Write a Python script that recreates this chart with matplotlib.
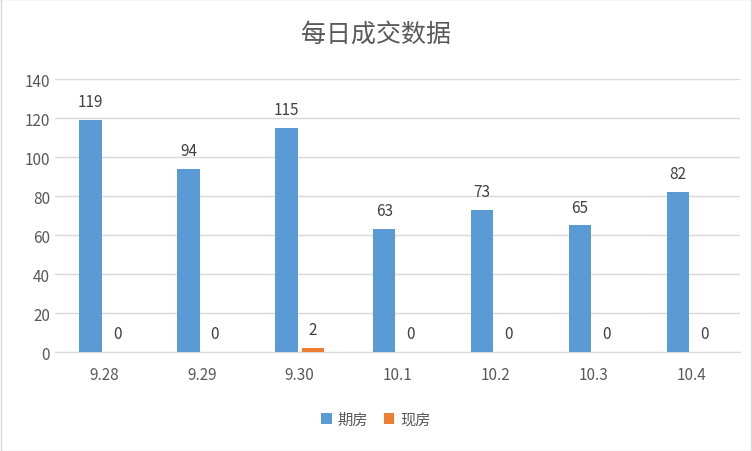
import matplotlib
matplotlib.use("Agg")
import matplotlib.pyplot as plt
import numpy as np

plt.rcParams['font.family'] = ['Noto Sans CJK SC', 'DejaVu Sans']

categories = ["9.28", "9.29", "9.30", "10.1", "10.2", "10.3", "10.4"]
futures = [119, 94, 115, 63, 73, 65, 82]
spot = [0, 0, 2, 0, 0, 0, 0]
series_names = ["期房", "现房"]

fig = plt.figure(figsize=(7.52, 4.52), dpi=100)
ax = fig.add_axes([0.073, 0.219, 0.911, 0.604])
x = np.arange(len(categories))
w = 0.23
b1 = ax.bar(x - 0.135, futures, w, color="#5B9BD5", label=series_names[0], zorder=3)
b2 = ax.bar(x + 0.135, spot, w, color="#ED7D31", label=series_names[1], zorder=3)
for xi, v in zip(x, futures):
    ax.text(xi - 0.135, v + 5, str(v), ha="center", va="bottom", fontsize=11, color="#404040")
for xi, v in zip(x, spot):
    ax.text(xi + 0.135, v + 5, str(v), ha="center", va="bottom", fontsize=11, color="#404040")

ax.set_xlim(-0.5, len(categories) - 0.5)
ax.set_ylim(0, 140)
ax.set_yticks(range(0, 141, 20))
ax.set_xticks(x)
ax.set_xticklabels(categories)
ax.tick_params(length=0, labelsize=11, colors="#595959")
ax.tick_params(axis="x", pad=10)
ax.grid(axis="y", color="#D9D9D9", linewidth=1, zorder=0)
for s in ["top", "right", "left"]:
    ax.spines[s].set_visible(False)
ax.spines["bottom"].set_color("#D9D9D9")

fig.text(0.5, 0.923, "每日成交数据", ha="center", va="center", fontsize=18, color="#595959")
fig.legend(handles=[b1, b2], loc="center", bbox_to_anchor=(0.5, 0.07), ncol=2, frameon=False,
           fontsize=11, handlelength=0.7, handleheight=0.7, columnspacing=1.0, handletextpad=0.4,
           labelcolor="#595959")
fig.patches.append(plt.Rectangle((0.001, 0.001), 0.998, 0.998, transform=fig.transFigure,
                                 fill=False, edgecolor="#D9D9D9", linewidth=1))
fig.savefig("out.png", dpi=100)
